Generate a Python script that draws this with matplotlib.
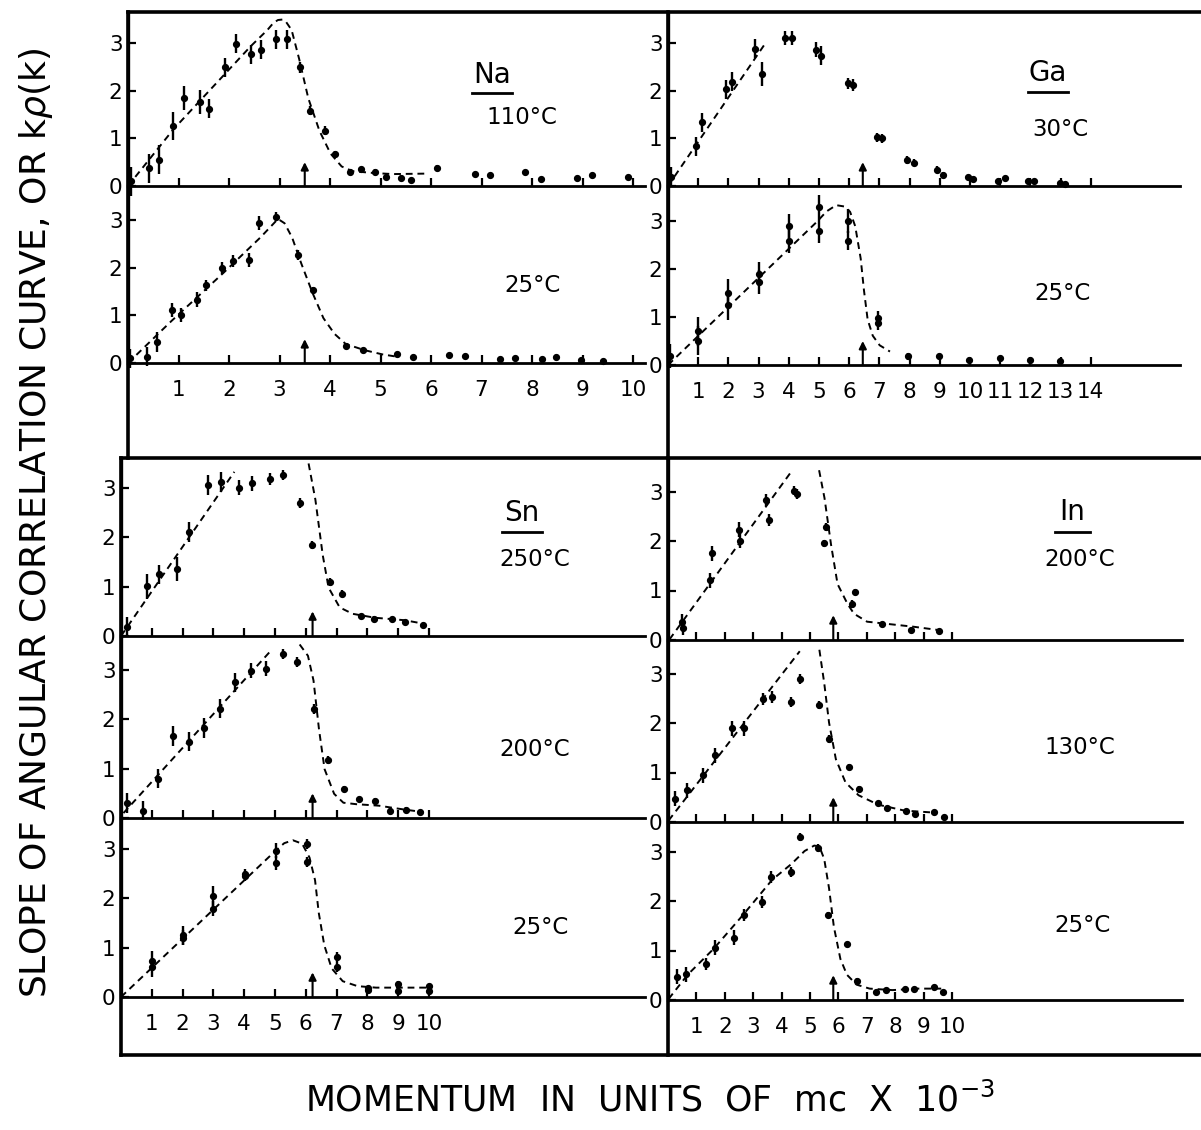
import matplotlib
matplotlib.use("Agg")
import matplotlib.pyplot as plt
from matplotlib.lines import Line2D

W, H = 1201, 1130

# ---- Na 110 C ----
na110_k = [0.06, 0.41, 0.62, 0.90, 1.11, 1.43, 1.61, 1.92, 2.13, 2.43, 2.63, 2.93, 3.14, 3.41, 3.61,
           3.90, 4.10, 4.40, 4.61, 4.90, 5.10, 5.40, 5.60, 6.12, 6.87, 7.16, 7.87, 8.17, 8.89, 9.18, 9.90]
na110_v = [0.10, 0.37, 0.55, 1.26, 1.85, 1.76, 1.62, 2.49, 2.98, 2.76, 2.86, 3.08, 3.08, 2.49, 1.58,
           1.16, 0.67, 0.29, 0.35, 0.30, 0.19, 0.16, 0.12, 0.37, 0.25, 0.23, 0.30, 0.15, 0.16, 0.23, 0.18]
na110_e = [0.3, 0.3, 0.3, 0.3, 0.25, 0.25, 0.2, 0.2, 0.2, 0.2, 0.2, 0.2, 0.2, 0.12, 0.1,
           0.1, 0.07, 0.06, 0.05, 0.05, 0.04, 0.04, 0.04, 0.06, 0.04, 0.04, 0.04, 0.04, 0.04, 0.04, 0.04]
na110_cx = [0, 0.9, 1.92, 2.43, 2.76, 2.88, 2.97, 3.06, 3.13, 3.24, 3.39, 3.57, 3.79, 4.01, 4.23, 4.45, 4.89, 5.25, 5.92]
na110_cy = [0, 1.19, 2.35, 2.93, 3.27, 3.42, 3.48, 3.49, 3.44, 3.27, 2.66, 1.84, 1.16, 0.68, 0.41, 0.31, 0.27, 0.25, 0.26]

# ---- Na 25 C ----
na25_k = [0.04, 0.37, 0.57, 0.88, 1.05, 1.37, 1.54, 1.87, 2.08, 2.40, 2.59, 2.94, 3.36, 3.66,
          4.31, 4.66, 5.32, 5.65, 6.35, 6.67, 7.36, 7.67, 8.20, 8.48, 8.97, 9.40]
na25_v = [0.10, 0.13, 0.44, 1.11, 1.00, 1.33, 1.63, 1.99, 2.14, 2.16, 2.93, 3.07, 2.26, 1.52,
          0.36, 0.27, 0.18, 0.13, 0.16, 0.15, 0.09, 0.10, 0.09, 0.13, 0.07, 0.05]
na25_e = [0.2, 0.2, 0.2, 0.15, 0.15, 0.15, 0.12, 0.12, 0.12, 0.15, 0.15, 0.1, 0.1, 0.08,
          0.03, 0.03, 0.03, 0.02, 0.02, 0.02, 0.02, 0.02, 0.02, 0.02, 0.02, 0.02]
na25_cx = [0, 0.86, 1.89, 2.62, 2.97, 3.10, 3.25, 3.43, 3.65, 3.87, 4.09, 4.31, 4.68, 5.04, 5.34]
na25_cy = [0, 0.88, 1.89, 2.63, 3.02, 2.93, 2.63, 2.09, 1.48, 0.94, 0.61, 0.40, 0.27, 0.18, 0.13]
na_kf = 3.5

# ---- Ga 30 C ----
ga30_k = [0.10, 0.92, 1.14, 1.93, 2.13, 2.88, 3.10, 3.88, 4.10, 4.90, 5.08, 5.96, 6.11, 6.91,
          7.09, 7.93, 8.13, 8.91, 9.10, 9.94, 10.10, 10.94, 11.15, 11.92, 12.13, 12.98, 13.15]
ga30_v = [0.19, 0.83, 1.34, 2.03, 2.19, 2.88, 2.34, 3.10, 3.10, 2.86, 2.73, 2.15, 2.12, 1.02,
          1.00, 0.54, 0.49, 0.34, 0.23, 0.18, 0.14, 0.11, 0.17, 0.11, 0.11, 0.07, 0.05]
ga30_e = [0.2, 0.2, 0.2, 0.2, 0.2, 0.2, 0.25, 0.15, 0.15, 0.15, 0.2, 0.12, 0.12, 0.1,
          0.1, 0.08, 0.08, 0.07, 0.07, 0.06, 0.05, 0.04, 0.04, 0.04, 0.04, 0.04, 0.04]
ga30_cx = [0, 3.2]
ga30_cy = [0, 2.97]

# ---- Ga 25 C ----
ga25_k = [0.07, 1.0, 1.0, 2.0, 2.0, 3.0, 3.0, 4.0, 4.0, 5.0, 5.0, 5.97, 5.97, 6.95, 6.95,
          7.95, 8.96, 9.98, 10.98, 11.98, 12.99]
ga25_v = [0.18, 0.70, 0.51, 1.50, 1.24, 1.90, 1.72, 2.89, 2.59, 3.29, 2.80, 2.99, 2.59, 0.98, 0.88,
          0.18, 0.18, 0.10, 0.15, 0.10, 0.09]
ga25_e = [0.25, 0.3, 0.3, 0.3, 0.3, 0.25, 0.25, 0.25, 0.25, 0.25, 0.25, 0.25, 0.2, 0.15, 0.15,
          0.07, 0.05, 0.04, 0.04, 0.04, 0.04]
ga25_cx = [0, 4.94, 5.25, 5.57, 5.86, 6.03, 6.20, 6.38, 6.49, 6.61, 6.78, 7.01, 7.35]
ga25_cy = [0, 2.99, 3.20, 3.33, 3.30, 3.19, 2.89, 2.22, 1.55, 0.95, 0.61, 0.41, 0.28]
ga_kf = 6.45

# ---- Sn 250 C ----
sn250_k = [0.21, 0.83, 1.23, 1.81, 2.20, 2.83, 3.25, 3.82, 4.24, 4.84, 5.25, 5.82, 6.20, 6.77,
           7.19, 7.80, 8.21, 8.81, 9.21, 9.82]
sn250_v = [0.19, 1.01, 1.25, 1.36, 2.11, 3.07, 3.12, 3.01, 3.10, 3.18, 3.26, 2.70, 1.84, 1.09,
           0.86, 0.40, 0.35, 0.34, 0.28, 0.22]
sn250_e = [0.2, 0.25, 0.2, 0.25, 0.2, 0.2, 0.2, 0.15, 0.15, 0.12, 0.1, 0.1, 0.08, 0.08,
           0.07, 0.05, 0.05, 0.05, 0.05, 0.03]
sn250_lx = [0, 3.68]
sn250_ly = [0, 3.33]
sn250_dx = [6.09, 6.31, 6.55, 6.74, 7.10, 7.52, 8.25, 9.21, 9.82]
sn250_dy = [3.50, 2.77, 1.64, 0.98, 0.58, 0.45, 0.37, 0.32, 0.25]

# ---- Sn 200 C ----
sn200_k = [0.21, 0.70, 1.20, 1.68, 2.22, 2.70, 3.23, 3.70, 4.23, 4.70, 5.25, 5.72, 6.26, 6.71,
           7.24, 7.73, 8.25, 8.73, 9.25, 9.72]
sn200_v = [0.31, 0.15, 0.80, 1.67, 1.55, 1.82, 2.22, 2.75, 2.99, 3.03, 3.33, 3.17, 2.21, 1.17,
           0.59, 0.38, 0.35, 0.15, 0.17, 0.12]
sn200_e = [0.2, 0.2, 0.2, 0.2, 0.2, 0.2, 0.2, 0.2, 0.15, 0.15, 0.1, 0.1, 0.1, 0.08,
           0.06, 0.05, 0.05, 0.05, 0.05, 0.04]
sn200_lx = [0.08, 4.86]
sn200_ly = [0.10, 3.39]
sn200_dx = [5.80, 6.07, 6.25, 6.43, 6.61, 6.92, 7.22, 7.64, 8.37, 9.21, 9.82]
sn200_dy = [3.52, 3.29, 2.79, 1.79, 0.99, 0.49, 0.31, 0.28, 0.25, 0.17, 0.12]

# ---- Sn 25 C ----
sn25_k = [1.0, 1.0, 2.02, 2.02, 3.0, 3.0, 4.02, 4.02, 5.04, 5.04, 6.03, 6.03, 7.02, 7.02,
          8.02, 8.02, 9.0, 9.0, 10.0, 10.0]
sn25_v = [0.73, 0.60, 1.25, 1.20, 2.05, 1.79, 2.50, 2.45, 2.97, 2.72, 3.10, 2.74, 0.81, 0.60,
          0.19, 0.15, 0.27, 0.12, 0.22, 0.12]
sn25_e = [0.2, 0.2, 0.2, 0.15, 0.2, 0.15, 0.1, 0.1, 0.15, 0.15, 0.1, 0.1, 0.1, 0.1,
          0.04, 0.04, 0.06, 0.06, 0.04, 0.04]
sn25_cx = [0, 5.04, 5.30, 5.58, 5.88, 6.12, 6.30, 6.42, 6.60, 6.84, 7.20, 7.68, 8.28, 9.96]
sn25_cy = [0, 2.98, 3.12, 3.18, 3.11, 2.83, 2.37, 1.71, 1.05, 0.58, 0.32, 0.22, 0.19, 0.19]
sn_kf = 6.22

# ---- In 200 C ----
in200_k = [0.48, 0.54, 1.48, 1.56, 2.49, 2.55, 3.46, 3.56, 4.44, 4.53, 5.49, 5.55, 6.49, 6.58,
           7.53, 8.54, 9.54]
in200_v = [0.37, 0.25, 1.21, 1.75, 2.23, 2.01, 2.83, 2.43, 3.02, 2.95, 1.95, 2.28, 0.73, 0.97,
           0.33, 0.21, 0.19]
in200_e = [0.15, 0.15, 0.15, 0.15, 0.15, 0.15, 0.12, 0.12, 0.1, 0.1, 0.08, 0.08, 0.08, 0.06,
           0.04, 0.04, 0.04]
in200_lx = [0.05, 4.34]
in200_ly = [0.01, 3.40]
in200_dx = [5.32, 5.51, 5.74, 5.97, 6.32, 6.55, 7.01, 7.81, 8.62, 9.54]
in200_dy = [3.43, 2.87, 1.93, 1.13, 0.73, 0.53, 0.37, 0.32, 0.27, 0.20]

# ---- In 130 C ----
in130_k = [0.23, 0.66, 1.23, 1.64, 2.25, 2.68, 3.33, 3.67, 4.34, 4.66, 5.33, 5.67, 6.37, 6.71,
           7.38, 7.72, 8.37, 8.70, 9.37, 9.73]
in130_v = [0.47, 0.64, 0.94, 1.35, 1.89, 1.89, 2.49, 2.53, 2.43, 2.88, 2.36, 1.67, 1.11, 0.67,
           0.39, 0.29, 0.23, 0.17, 0.20, 0.11]
in130_e = [0.15, 0.15, 0.15, 0.15, 0.15, 0.15, 0.12, 0.12, 0.1, 0.1, 0.08, 0.08, 0.06, 0.06,
           0.04, 0.04, 0.04, 0.03, 0.03, 0.03]
in130_lx = [0.02, 4.64]
in130_ly = [0.03, 3.45]
in130_dx = [5.33, 5.50, 5.67, 5.91, 6.25, 6.71, 7.40, 8.33, 9.37]
in130_dy = [3.48, 2.81, 2.01, 1.27, 0.80, 0.54, 0.35, 0.23, 0.19]

# ---- In 25 C ----
in25_k = [0.32, 0.65, 1.34, 1.66, 2.31, 2.66, 3.31, 3.64, 4.32, 4.64, 5.29, 5.64, 6.32, 6.67,
          7.33, 7.67, 8.34, 8.67, 9.36, 9.68]
in25_v = [0.47, 0.52, 0.72, 1.06, 1.26, 1.71, 1.98, 2.48, 2.59, 3.29, 3.08, 1.72, 1.13, 0.39,
          0.17, 0.20, 0.23, 0.23, 0.27, 0.17]
in25_e = [0.15, 0.15, 0.12, 0.15, 0.15, 0.12, 0.12, 0.12, 0.1, 0.08, 0.08, 0.06, 0.05, 0.05,
          0.04, 0.04, 0.04, 0.04, 0.04, 0.04]
in25_cx = [0.02, 0.69, 1.60, 2.63, 3.67, 4.35, 4.81, 5.15, 5.33, 5.50, 5.67, 5.84, 6.07, 6.30,
           6.64, 7.10, 7.90, 8.82, 9.62]
in25_cy = [0.02, 0.51, 1.03, 1.71, 2.43, 2.75, 3.01, 3.12, 3.10, 2.85, 2.26, 1.48, 0.83, 0.51,
           0.31, 0.23, 0.20, 0.23, 0.23]
in_kf = 5.82

y_ticks = [0, 1, 2, 3]
ticks_10 = list(range(1, 11))
ticks_14 = list(range(1, 15))

plt.rcParams['font.family'] = 'DejaVu Sans'
fig = plt.figure(figsize=(W / 100, H / 100), dpi=100)


def fx(px):
    return px / W


def fy(py):
    return 1 - py / H


# build one sub panel from its pixel frame (left/right, top, zero line) and scale
def add_panel(left, right, top, y0, xs, ys, xticks, show_xlabels):
    ax = fig.add_axes([fx(left), fy(y0), (right - left) / W, (y0 - top) / H])
    ax.set_xlim(0, (right - left) / xs)
    ax.set_ylim(0, (y0 - top) / ys)
    ax.patch.set_alpha(0)
    for s in ['top', 'right']:
        ax.spines[s].set_visible(False)
    ax.spines['bottom'].set_linewidth(2.0)
    ax.spines['left'].set_linewidth(2.4)
    ax.set_yticks(y_ticks)
    ax.set_yticklabels([str(t) for t in y_ticks])
    ax.set_xticks(xticks)
    if show_xlabels:
        ax.set_xticklabels([str(t) for t in xticks])
    else:
        ax.set_xticklabels([])
    ax.tick_params(axis='both', direction='in', length=6, width=1.6, labelsize=15.5)
    ax.tick_params(axis='y', pad=4)
    ax.tick_params(axis='x', pad=12)
    return ax


def draw_points(ax, k, v, e):
    ax.errorbar(k, v, yerr=e, fmt='o', color='black', ms=4.2, elinewidth=1.7,
                capsize=0, clip_on=False, zorder=3)


def draw_curve(ax, cx, cy):
    ax.plot(cx, cy, color='black', lw=1.4, linestyle=(0, (3.5, 2.5)), zorder=2)


def draw_arrow(ax, kf):
    ax.annotate('', xy=(kf, 0.5), xytext=(kf, 0.0),
                arrowprops=dict(arrowstyle='-|>', color='black', lw=1.5,
                                mutation_scale=11, shrinkA=0, shrinkB=0))


# Na
ax = add_panel(128, 645, 12, 186, 50.5, 47.7, ticks_10, False)
draw_curve(ax, na110_cx, na110_cy)
draw_points(ax, na110_k, na110_v, na110_e)
draw_arrow(ax, na_kf)

ax = add_panel(128, 645, 186, 363, 50.5, 47.7, ticks_10, True)
draw_curve(ax, na25_cx, na25_cy)
draw_points(ax, na25_k, na25_v, na25_e)
draw_arrow(ax, na_kf)

# Ga
ax = add_panel(668, 1180, 12, 186, 30.2, 47.7, ticks_14, False)
draw_curve(ax, ga30_cx, ga30_cy)
draw_points(ax, ga30_k, ga30_v, ga30_e)
draw_arrow(ax, ga_kf)

ax = add_panel(668, 1180, 186, 365, 30.2, 48.0, ticks_14, True)
draw_curve(ax, ga25_cx, ga25_cy)
draw_points(ax, ga25_k, ga25_v, ga25_e)
draw_arrow(ax, ga_kf)

# Sn
ax = add_panel(121, 645, 460, 636, 30.8, 49.3, ticks_10, False)
draw_curve(ax, sn250_lx, sn250_ly)
draw_curve(ax, sn250_dx, sn250_dy)
draw_points(ax, sn250_k, sn250_v, sn250_e)
draw_arrow(ax, sn_kf)

ax = add_panel(121, 645, 636, 818, 30.8, 49.3, ticks_10, False)
draw_curve(ax, sn200_lx, sn200_ly)
draw_curve(ax, sn200_dx, sn200_dy)
draw_points(ax, sn200_k, sn200_v, sn200_e)
draw_arrow(ax, sn_kf)

ax = add_panel(121, 645, 818, 997, 30.8, 49.3, ticks_10, True)
draw_curve(ax, sn25_cx, sn25_cy)
draw_points(ax, sn25_k, sn25_v, sn25_e)
draw_arrow(ax, sn_kf)

# In
ax = add_panel(668, 1182, 460, 640, 28.4, 49.5, ticks_10, False)
draw_curve(ax, in200_lx, in200_ly)
draw_curve(ax, in200_dx, in200_dy)
draw_points(ax, in200_k, in200_v, in200_e)
draw_arrow(ax, in_kf)

ax = add_panel(668, 1182, 640, 822, 28.4, 49.5, ticks_10, False)
draw_curve(ax, in130_lx, in130_ly)
draw_curve(ax, in130_dx, in130_dy)
draw_points(ax, in130_k, in130_v, in130_e)
draw_arrow(ax, in_kf)

ax = add_panel(668, 1182, 822, 1000, 28.4, 49.5, ticks_10, True)
draw_curve(ax, in25_cx, in25_cy)
draw_points(ax, in25_k, in25_v, in25_e)
draw_arrow(ax, in_kf)

# outer frames
frame_lw = 2.6
frame_lines = [
    ([128, 1210], [12, 12]),
    ([128, 128], [12, 458]),
    ([121, 1210], [458, 458]),
    ([668, 668], [12, 458]),
    ([121, 121], [458, 1055]),
    ([668, 668], [458, 1055]),
    ([121, 1210], [1055, 1055]),
]
for xs_, ys_ in frame_lines:
    fig.add_artist(Line2D([fx(v) for v in xs_], [fy(v) for v in ys_],
                          color='black', lw=frame_lw, solid_capstyle='projecting'))

# panel labels
names = [("Na", 492, 75, 472, 512, 93), ("Ga", 1048, 73, 1028, 1068, 92),
         ("Sn", 522, 513, 502, 542, 532), ("In", 1072, 512, 1055, 1090, 532)]
for txt, cx, cy, u0, u1, uy in names:
    fig.text(fx(cx), fy(cy), txt, fontsize=20, ha='center', va='center')
    fig.add_artist(Line2D([fx(u0), fx(u1)], [fy(uy), fy(uy)], color='black', lw=2))

temps = [("110°C", 522, 118), ("25°C", 532, 285), ("30°C", 1060, 130), ("25°C", 1062, 293),
         ("250°C", 535, 560), ("200°C", 535, 750), ("25°C", 540, 928),
         ("200°C", 1080, 560), ("130°C", 1080, 748), ("25°C", 1082, 925)]
for txt, cx, cy in temps:
    fig.text(fx(cx), fy(cy), txt, fontsize=16.5, ha='center', va='center')

fig.text(fx(36), fy(523), "SLOPE OF ANGULAR CORRELATION CURVE, OR k$\\rho$(k)",
         rotation=90, fontsize=26, ha='center', va='center')
fig.text(fx(650), fy(1100), "MOMENTUM  IN  UNITS  OF  mc  X  10$^{-3}$",
         fontsize=25, ha='center', va='center')

fig.savefig('out.png', dpi=100)
